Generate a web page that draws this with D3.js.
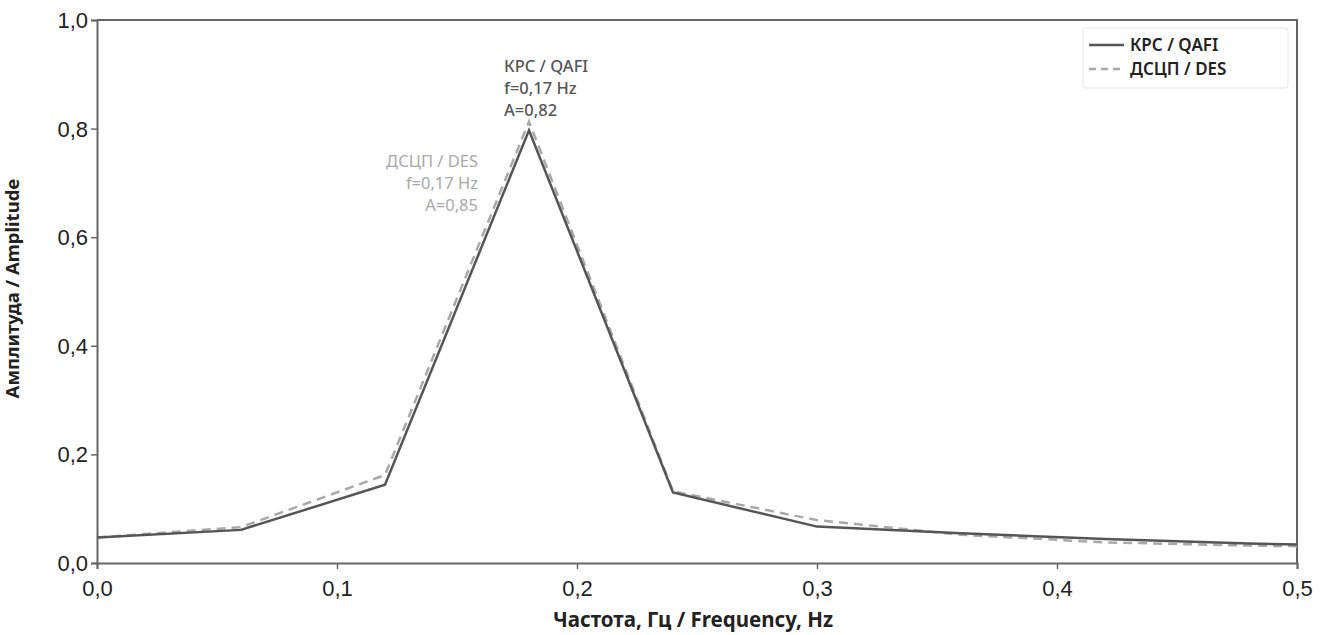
<!DOCTYPE html>
<html>
<head>
<meta charset="utf-8">
<script src="https://cdn.jsdelivr.net/npm/d3@7"></script>
<style>
  body { margin: 0; background: #fff; }
  svg { font-family: "Noto Sans", "Open Sans", sans-serif; }
</style>
</head>
<body>
<div id="chart"></div>
<script>
// frequency points, Hz
const freqs = [0, 0.06, 0.12, 0.18, 0.24, 0.30, 0.36, 0.42, 0.48, 0.5];
// КРС / QAFI amplitude
const qafi = [0.047, 0.061, 0.144, 0.797, 0.130, 0.067, 0.055, 0.044, 0.036, 0.034];
// ДСЦП / DES amplitude
const des = [0.047, 0.066, 0.162, 0.813, 0.132, 0.079, 0.052, 0.038, 0.032, 0.031];

const xTicks = [0, 0.1, 0.2, 0.3, 0.4, 0.5];
const yTicks = [0, 0.2, 0.4, 0.6, 0.8, 1.0];

const qafiNote = ["КРС / QAFI", "f=0,17 Hz", "A=0,82"];
const desNote = ["ДСЦП / DES", "f=0,17 Hz", "A=0,85"];

const W = 1325, H = 635;
const margin = { top: 20, right: 28, bottom: 72, left: 97 };
const width = W - margin.left - margin.right,
      height = H - margin.top - margin.bottom;

const fmt = d => d3.format(".1f")(d).replace(".", ",");

const svg = d3.select("#chart").append("svg")
    .attr("width", W).attr("height", H);
const g = svg.append("g")
    .attr("transform", `translate(${margin.left},${margin.top})`);

const x = d3.scaleLinear().domain([0, 0.5]).range([0, width]);
const y = d3.scaleLinear().domain([0, 1]).range([height, 0]);

// frame top / right
g.append("path")
    .attr("d", `M0,0H${width}V${height}`)
    .attr("fill", "none").attr("stroke", "#666").attr("stroke-width", 2);

// axes
const xAxis = g.append("g")
    .attr("transform", `translate(0,${height})`)
    .call(d3.axisBottom(x).tickValues(xTicks).tickFormat(fmt).tickSize(6).tickPadding(8));
const yAxis = g.append("g")
    .call(d3.axisLeft(y).tickValues(yTicks).tickFormat(fmt).tickSize(6).tickPadding(3));

[xAxis, yAxis].forEach(a => {
  a.select(".domain").attr("stroke", "#666").attr("stroke-width", 2);
  a.selectAll(".tick line").attr("stroke", "#666").attr("stroke-width", 1.5);
  a.selectAll(".tick text")
      .attr("fill", "#222")
      .style("font-size", "22px")
      .style("font-weight", 300);
});
xAxis.selectAll(".tick text").attr("dy", "0.85em");
yAxis.selectAll(".tick text").attr("dy", "0.34em");

// lines
const line = vals => d3.line()
    .x((d, i) => x(freqs[i]))
    .y(d => y(d))(vals);

g.append("path")
    .attr("d", line(des))
    .attr("fill", "none")
    .attr("stroke", "#a9a9a9")
    .attr("stroke-width", 2.5)
    .attr("stroke-dasharray", "9,6");

g.append("path")
    .attr("d", line(qafi))
    .attr("fill", "none")
    .attr("stroke", "#555")
    .attr("stroke-width", 2.5);

// peak annotations
const peakX = x(freqs[3]);
g.append("text")
    .attr("y", y(qafi[3]) - 58)
    .attr("fill", "#555")
    .style("font-size", "16.5px")
    .style("font-weight", 500)
    .selectAll("tspan").data(qafiNote).join("tspan")
    .attr("x", peakX - 25)
    .attr("dy", (d, i) => i ? 22 : 0)
    .text(d => d);

g.append("text")
    .attr("y", y(qafi[3]) + 37)
    .attr("fill", "#a9a9a9")
    .attr("text-anchor", "end")
    .style("font-size", "16.5px")
    .style("font-weight", 400)
    .selectAll("tspan").data(desNote).join("tspan")
    .attr("x", peakX - 51)
    .attr("dy", (d, i) => i ? 22 : 0)
    .text(d => d);

// axis titles
g.append("text")
    .attr("x", width / 2 - 4).attr("y", height + 64)
    .attr("text-anchor", "middle")
    .attr("fill", "#222")
    .style("font-size", "20.5px").style("font-weight", 700)
    .text("Частота, Гц / Frequency, Hz");

g.append("text")
    .attr("transform", `translate(${-78},${height / 2 - 3}) rotate(-90)`)
    .attr("text-anchor", "middle")
    .attr("fill", "#222")
    .style("font-size", "18.5px").style("font-weight", 700)
    .text("Амплитуда / Amplitude");

// legend
const legend = g.append("g").attr("transform", `translate(${width - 214},8)`);
legend.append("rect")
    .attr("width", 205).attr("height", 60).attr("rx", 3)
    .attr("fill", "#fff").attr("stroke", "#e6e6e6");
const items = [
  { name: "КРС / QAFI", color: "#555", dash: null },
  { name: "ДСЦП / DES", color: "#a9a9a9", dash: "7,5" }
];
const li = legend.selectAll(".li").data(items).join("g")
    .attr("class", "li")
    .attr("transform", (d, i) => `translate(0,${17 + i * 24})`);
li.append("line")
    .attr("x1", 6).attr("x2", 41)
    .attr("stroke", d => d.color).attr("stroke-width", 2.5)
    .attr("stroke-dasharray", d => d.dash);
li.append("text")
    .attr("x", 47).attr("dy", "0.35em")
    .attr("fill", "#222")
    .style("font-size", "17px").style("font-weight", 600)
    .text(d => d.name);
</script>
</body>
</html>
